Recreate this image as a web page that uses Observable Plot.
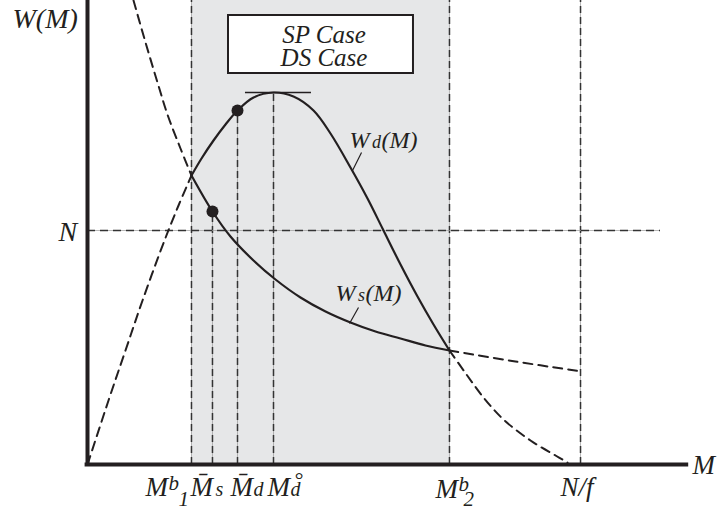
<!DOCTYPE html>
<html><head><meta charset="utf-8">
<script src="https://cdn.jsdelivr.net/npm/d3@7"></script>
<script src="https://cdn.jsdelivr.net/npm/@observablehq/plot@0.6"></script>
<style>
html,body{margin:0;padding:0;background:#fff;}
#chart{width:720px;height:509px;}
</style></head><body><div id="chart"></div>
<script>
const FONT = "'Liberation Serif','Times New Roman',Times,serif";
const INK = "#231f20";

// ---- data (M on x, W(M) on y) ----
const tickNames  = ["Mb1", "Ms", "Md", "Md0", "Mb2", "Nf"];
const tickValues = [17.33, 20.83, 25, 31, 60.33, 82.17];
const tickTops   = [116, 63.25, 88.5, 93, 116, 116];   // where each vertical guide ends
const N_level = 58.5;
const N_lineEnd = 95.5;
const shadeFrom = 17.33, shadeTo = 60.33, W_top = 116;

const wdDashedLeft = [[0,0],[3.5,16],[6.33,28.5],[9.17,41],[12.83,56],[15.17,64.75],[17.33,72.25]];
const wdSolid = [[17.33,72.25],[19,76.5],[21,81],[23,85],[25,88.5],[27.67,91.75],[31,93],[34.33,92],
  [37.67,88.5],[40.5,82.75],[43.83,74.25],[46.67,66.5],[49.17,59],[52.17,50],[55,42],[57.67,35],[60.33,28.5]];
const wdDashedRight = [[60.33,28.5],[63.17,22.5],[66,16.75],[69.33,11.25],[73.83,6],[78,2.25],[80,0.5]];

const wsDashedLeft = [[7.67,116],[9.67,105.5],[11.67,95.5],[13.33,87.5],[15.5,79],[17.33,72.25]];
const wsSolid = [[17.33,72.25],[20.83,63.25],[23.83,57],[27.67,51],[31.33,46.25],[35.5,41.75],[39.67,38.25],
  [43.83,35.5],[48,33.25],[52.17,31.5],[56.33,29.75],[60.33,28.5]];
const wsDashedRight = [[60.33,28.5],[71.33,25.75],[81.67,23.4]];

const dots = [[25,88.5],[20.83,63.25]];
const peakTangent = {x1: 26.33, x2: 37.33, W: 93};

const legendLines = ["SP Case", "DS Case"];
const legendBox = {x1: 23.5, x2: 54.33, y1: 97.75, y2: 112.25};

const pts = a => a.map(([M, W]) => ({M, W}));

// ---- helpers ----
function rich(x, y, parts) {
  return parts.map(p => Plot.text([{x, y}], {
    x: "x", y: "y", text: () => p.t, dx: p.dx, dy: p.dy || 0, fontSize: p.s,
    textAnchor: "start", lineAnchor: "bottom", fontStyle: "italic", fontFamily: FONT, fill: INK
  }));
}
const curve = (data, dashed) => Plot.line(pts(data), {
  x: "M", y: "W", curve: "catmull-rom", stroke: INK,
  strokeWidth: dashed ? 2 : 2.2, strokeDasharray: dashed ? "9,6" : null
});

const labelY = -7.75;
const tickLabelParts = {
  Mb1: [{t:"M", dx:-46, s:27}, {t:"b", dx:-23, dy:-6, s:21}, {t:"1", dx:-13, dy:10, s:21}],
  Ms:  [{t:"M\u0304", dx:-22, s:27}, {t:"s", dx:3, s:20}],
  Md:  [{t:"M\u0304", dx:-7, s:27}, {t:"d", dx:16, s:20}],
  Md0: [{t:"M", dx:-6, s:27}, {t:"d", dx:17, s:20}, {t:"\u00B0", dx:20.5, dy:-9, s:22}],
  Mb2: [{t:"M", dx:-14, dy:2, s:27}, {t:"b", dx:9, dy:-5, s:21}, {t:"2", dx:14, dy:10, s:21}],
  Nf:  [{t:"N/f", dx:-20, s:27}]
};

const marks = [];
// shaded region
marks.push(Plot.rect([{x1: shadeFrom, x2: shadeTo, y1: 0, y2: W_top}], {x1:"x1", x2:"x2", y1:"y1", y2:"y2", fill: "#e6e7e8"}));
// vertical guides
const vg = tickValues.map((v, i) => ({x: v, top: tickTops[i]}));
marks.push(Plot.ruleX(vg, {x: "x", y1: 0, y2: "top", stroke: "#9a9a9a", strokeWidth: 0.7}));
marks.push(Plot.ruleX(vg, {x: "x", y1: 0, y2: "top", stroke: "#333", strokeWidth: 1.5, strokeDasharray: "7,4"}));
// N line
marks.push(Plot.ruleY([N_level], {x1: 0, x2: N_lineEnd, stroke: "#9a9a9a", strokeWidth: 0.7}));
marks.push(Plot.ruleY([N_level], {x1: 0, x2: N_lineEnd, stroke: "#333", strokeWidth: 1.5, strokeDasharray: "8,5"}));
// curves
marks.push(curve(wdDashedLeft, true), curve(wdSolid, false), curve(wdDashedRight, true));
marks.push(curve(wsDashedLeft, true), curve(wsSolid, false), curve(wsDashedRight, true));
// tangent at peak
marks.push(Plot.ruleY([peakTangent.W], {x1: peakTangent.x1, x2: peakTangent.x2, stroke: INK, strokeWidth: 1.5}));
// dots
marks.push(Plot.dot(pts(dots), {x: "M", y: "W", r: 6, fill: INK, stroke: "none"}));
// axes
marks.push(Plot.ruleX([0], {y1: -0.5, y2: W_top, stroke: INK, strokeWidth: 4}));
marks.push(Plot.ruleY([0], {x1: -0.4, x2: 100.2, stroke: INK, strokeWidth: 4}));
// legend box
marks.push(Plot.rect([legendBox], {x1:"x1", x2:"x2", y1:"y1", y2:"y2", fill: "white", stroke: INK, strokeWidth: 2}));
legendLines.forEach((t, i) => marks.push(Plot.text([t], {
  x: () => (legendBox.x1 + legendBox.x2) / 2, y: () => legendBox.y2, text: d => d,
  dx: 3, dy: 27 + 23 * i, fontSize: 25, fontStyle: "italic", fontFamily: FONT, fill: INK,
  textAnchor: "middle", lineAnchor: "bottom"
})));
// tick labels
tickNames.forEach((name, i) => marks.push(...rich(tickValues[i], labelY, tickLabelParts[name])));
// axis labels
marks.push(...rich(100, 0, [{t:"M", dx:5, dy:9, s:27}]));
marks.push(...rich(0, W_top, [{t:"W(M)", dx:-75, dy:27, s:28}]));
marks.push(...rich(0, N_level, [{t:"N", dx:-29, dy:10, s:28}]));
// curve labels + leaders
marks.push(...rich(43.67, 79.25, [{t:"W", dx:0, s:24}, {t:"d", dx:22.5, s:18}, {t:"(M)", dx:32, s:24}]));
marks.push(...rich(41.33, 41, [{t:"W", dx:0, s:24}, {t:"s", dx:22.5, s:18}, {t:"(M)", dx:30, s:24}]));
marks.push(Plot.link([{x1:45.67, y1:78, x2:44.17, y2:73.5}, {x1:45.17, y1:39.25, x2:43.67, y2:35.25}],
  {x1:"x1", y1:"y1", x2:"x2", y2:"y2", stroke: INK, strokeWidth: 1.2}));

const chart = Plot.plot({
  width: 720, height: 509, marginLeft: 87, marginRight: 33, marginTop: 0, marginBottom: 45,
  x: {domain: [0, 100], axis: null}, y: {domain: [0, W_top], axis: null},
  style: {fontFamily: FONT, background: "white", overflow: "visible"},
  marks
});
document.getElementById("chart").append(chart);
</script></body></html>
